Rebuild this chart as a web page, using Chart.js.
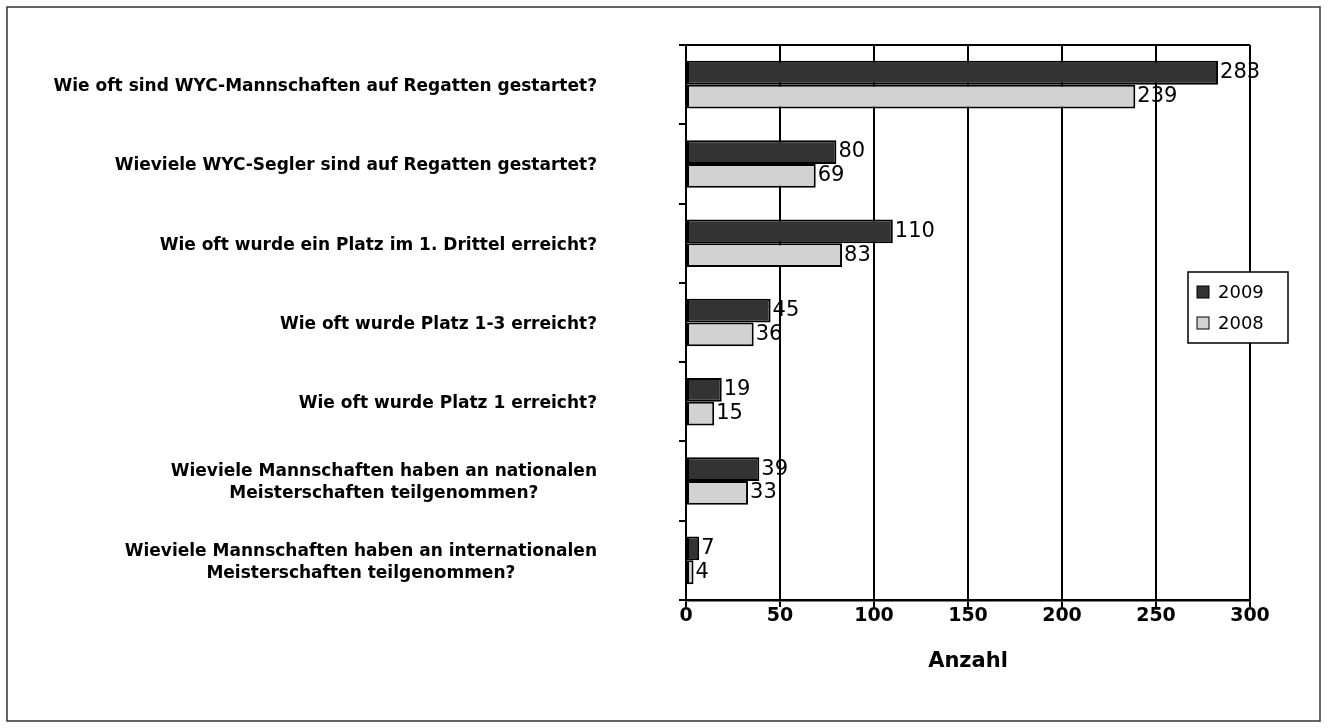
<!DOCTYPE html>
<html>
<head>
<meta charset="utf-8">
<script src="https://cdn.jsdelivr.net/npm/chart.js@4/dist/chart.umd.min.js"></script>
<style>
  body { margin: 0; background: #fff; }
  #wrap { width: 1328px; height: 728px; position: relative; }
</style>
</head>
<body>
<div id="wrap"><canvas id="grafico"></canvas></div>
<script>
// Daten aus der Grafik
const kategorien = [
  "Wie oft sind WYC-Mannschaften auf Regatten gestartet?",
  "Wieviele WYC-Segler sind auf Regatten gestartet?",
  "Wie oft wurde ein Platz im 1. Drittel erreicht?",
  "Wie oft wurde Platz 1-3 erreicht?",
  "Wie oft wurde Platz 1 erreicht?",
  ["Wieviele Mannschaften haben an nationalen", "Meisterschaften teilgenommen?"],
  ["Wieviele Mannschaften haben an internationalen", "Meisterschaften teilgenommen?"]
];
const werte2009 = [283, 80, 110, 45, 19, 39, 7];
const werte2008 = [239, 69, 83, 36, 15, 33, 4];
const xTicks = [0, 50, 100, 150, 200, 250, 300];

const schrift = "DejaVu Sans";

// Werte rechts neben die Balken schreiben
const wertePlugin = {
  id: "werte",
  afterDatasetsDraw(chart) {
    const ctx = chart.ctx;
    ctx.save();
    ctx.font = "21px '" + schrift + "'";
    ctx.fillStyle = "#000";
    ctx.textAlign = "left";
    ctx.textBaseline = "middle";
    chart.data.datasets.forEach((ds, i) => {
      chart.getDatasetMeta(i).data.forEach((bar, j) => {
        ctx.fillText(String(ds.data[j]), bar.x + 2, bar.y);
      });
    });
    ctx.restore();
  }
};

// Kategorien links, Block rechtsbuendig, Zeilen zentriert
const kategorienPlugin = {
  id: "kategorien",
  afterDraw(chart) {
    const ctx = chart.ctx;
    const yScale = chart.scales.y;
    const rechts = chart.chartArea.left - 89;
    ctx.save();
    ctx.font = "bold 17px '" + schrift + "'";
    ctx.fillStyle = "#000";
    ctx.textAlign = "center";
    ctx.textBaseline = "middle";
    chart.data.labels.forEach((lab, i) => {
      const zeilen = Array.isArray(lab) ? lab : [lab];
      const breite = Math.max(...zeilen.map(z => ctx.measureText(z).width));
      const mitteX = rechts - breite / 2;
      const zh = 22;
      const y0 = yScale.getPixelForValue(i) + 2 - (zeilen.length - 1) * zh / 2;
      zeilen.forEach((z, k) => ctx.fillText(z, mitteX, y0 + k * zh));
    });
    ctx.restore();
  }
};

// Rahmen um Diagrammflaeche, Legende und Bildrahmen
const rahmenPlugin = {
  id: "rahmen",
  afterDraw(chart) {
    const ctx = chart.ctx;
    const a = chart.chartArea;
    ctx.save();
    ctx.strokeStyle = "#000";
    ctx.lineWidth = 2;
    ctx.beginPath();
    ctx.moveTo(a.left, a.top);
    ctx.lineTo(a.right, a.top);
    ctx.stroke();

    // Legende
    const lx = 1188, ly = 272, lw = 100, lh = 71;
    ctx.fillStyle = "#fff";
    ctx.fillRect(lx, ly, lw, lh);
    ctx.lineWidth = 1.5;
    ctx.strokeRect(lx, ly, lw, lh);
    ctx.font = "18px '" + schrift + "'";
    ctx.textAlign = "left";
    ctx.textBaseline = "middle";
    chart.data.datasets.forEach((ds, i) => {
      const y = ly + 20 + i * 31;
      ctx.fillStyle = ds.backgroundColor;
      ctx.fillRect(lx + 9, y - 6, 12, 12);
      ctx.lineWidth = 1;
      ctx.strokeStyle = "#000";
      ctx.strokeRect(lx + 9, y - 6, 12, 12);
      ctx.fillStyle = "#000";
      ctx.fillText(ds.label, lx + 30, y + 1);
    });

    // Bildrahmen
    ctx.strokeStyle = "#333";
    ctx.lineWidth = 1.5;
    ctx.strokeRect(7, 7, 1313, 714);
    ctx.restore();
  }
};

new Chart(document.getElementById("grafico"), {
  type: "bar",
  data: {
    labels: kategorien,
    datasets: [
      {
        label: "2009",
        data: werte2009,
        backgroundColor: "#333333",
        borderColor: "#000",
        borderWidth: 2,
        borderSkipped: false
      },
      {
        label: "2008",
        data: werte2008,
        backgroundColor: "#d2d2d2",
        borderColor: "#000",
        borderWidth: 2,
        borderSkipped: false
      }
    ]
  },
  options: {
    indexAxis: "y",
    responsive: true,
    maintainAspectRatio: false,
    animation: false,
    categoryPercentage: 0.6,
    barPercentage: 1,
    layout: { padding: { left: 0, top: 45, right: 78, bottom: 54 } },
    plugins: {
      legend: { display: false },
      tooltip: { enabled: false }
    },
    scales: {
      x: {
        min: 0,
        max: 300,
        afterBuildTicks: s => { s.ticks = xTicks.map(v => ({ value: v })); },
        afterFit: s => { s.height = 74; },
        grid: { color: "#000", lineWidth: 2, tickLength: 7, drawTicks: true },
        border: { color: "#000", width: 2.5 },
        ticks: {
          color: "#000",
          padding: -2,
          font: { family: schrift, size: 19, weight: "bold" }
        },
        title: {
          display: true,
          text: "Anzahl",
          color: "#000",
          padding: 0,
          font: { family: schrift, size: 21, weight: "bold" }
        }
      },
      y: {
        afterFit: s => { s.width = 686; },
        grid: { drawOnChartArea: false, color: "#000", lineWidth: 2, tickLength: 7 },
        border: { color: "#000", width: 2 },
        ticks: { display: false }
      }
    }
  },
  plugins: [wertePlugin, kategorienPlugin, rahmenPlugin]
});
</script>
</body>
</html>
